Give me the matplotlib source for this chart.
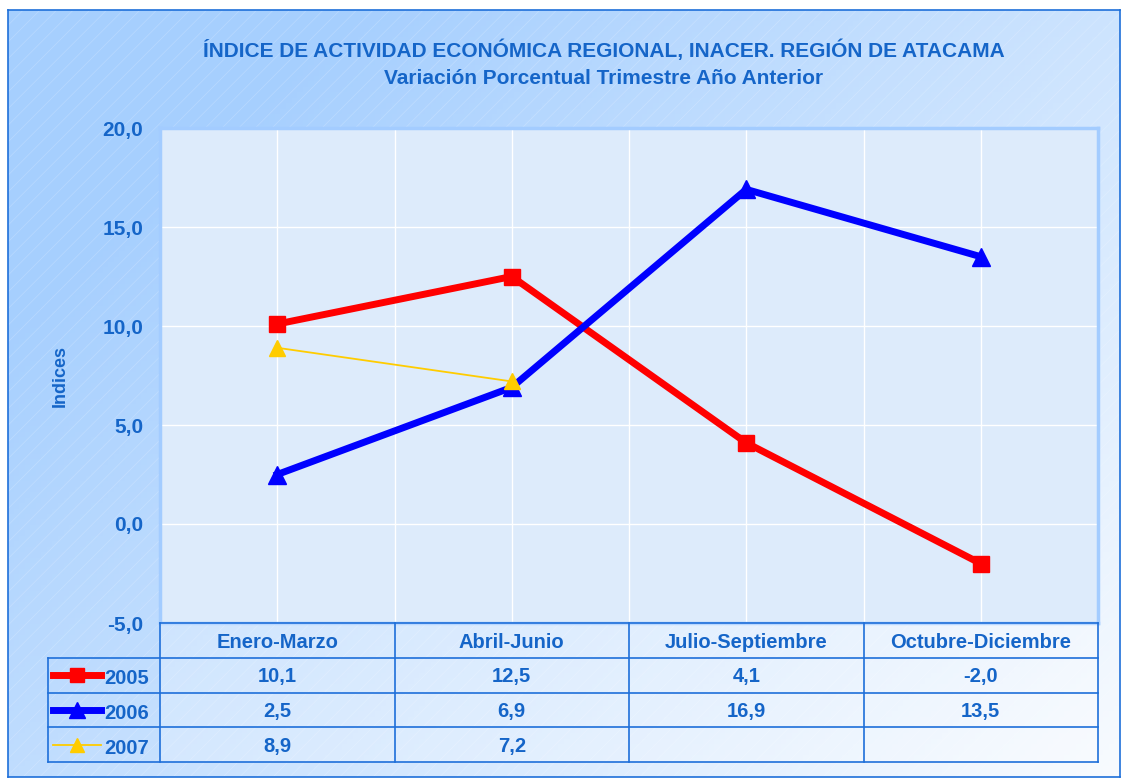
import numpy as np
import matplotlib.pyplot as plt
from matplotlib.lines import Line2D
from matplotlib.patches import Rectangle

# Datos
trimestres = ['Enero-Marzo', 'Abril-Junio', 'Julio-Septiembre', 'Octubre-Diciembre']
serie_2005 = [10.1, 12.5, 4.1, -2.0]
serie_2006 = [2.5, 6.9, 16.9, 13.5]
serie_2007 = [8.9, 7.2]
anios = ['2005', '2006', '2007']

W, H = 1132, 780
AZUL_TXT = '#1565C8'
plt.rcParams['font.family'] = ['Liberation Sans', 'DejaVu Sans']
plt.rcParams['hatch.linewidth'] = 0.5

fig = plt.figure(figsize=(W / 100, H / 100), dpi=100)
fig.patch.set_facecolor('white')


def px(x0, y0, x1, y1):
    """Rectángulo en píxeles -> coordenadas de figura"""
    return [x0 / W, 1 - y1 / H, (x1 - x0) / W, (y1 - y0) / H]


# Fondo degradado
bg = fig.add_axes(px(8, 10, 1120, 777), zorder=-5)
xx, yy = np.meshgrid(np.linspace(0, 1, 200), np.linspace(0, 1, 140))
t = np.clip((0.65 * xx + 0.5 * yy - 0.2) / 0.95, 0, 1)
c0 = np.array([0xA6, 0xCF, 0xFE]) / 255
c1 = np.array([0xF8, 0xFB, 0xFF]) / 255
img = c0[None, None, :] * (1 - t[..., None]) + c1[None, None, :] * t[..., None]
bg.imshow(img, aspect='auto', extent=[0, 1, 0, 1], origin='upper')
bg.add_patch(Rectangle((0, 0), 1, 1, facecolor='none', hatch='//',
                       edgecolor=(1, 1, 1, 0.22), linewidth=0))
bg.set_xlim(0, 1)
bg.set_ylim(0, 1)
bg.set_xticks([])
bg.set_yticks([])
for s in bg.spines.values():
    s.set_color('#1E6FD9')
    s.set_linewidth(1.2)

# Títulos
fig.text(604 / W, 1 - 50 / H, 'ÍNDICE DE ACTIVIDAD ECONÓMICA REGIONAL, INACER. REGIÓN DE ATACAMA',
         ha='center', va='center', fontsize=15, fontweight='bold', color=AZUL_TXT)
fig.text(604 / W, 1 - 78 / H, 'Variación Porcentual Trimestre Año Anterior',
         ha='center', va='center', fontsize=15, fontweight='bold', color=AZUL_TXT)

# Gráfico
ax = fig.add_axes(px(160, 128, 1098, 623))
ax.set_facecolor('#DDEBFB')
ax.set_xlim(-0.5, 3.5)
ax.set_ylim(-5, 20)
ax.set_yticks(np.arange(-5, 21, 5))
ax.set_yticklabels([f'{v:.1f}'.replace('.', ',') for v in np.arange(-5, 21, 5)],
                   fontsize=15, fontweight='bold', color=AZUL_TXT)
ax.tick_params(axis='y', length=0, pad=12)
ax.set_xticks(np.arange(0, 3.01, 0.5))
ax.tick_params(axis='x', length=0, labelbottom=False)
ax.grid(True, color='white', linewidth=1)
ax.set_axisbelow(True)
for s in ax.spines.values():
    s.set_color('#A3CCFF')
    s.set_linewidth(2.5)
ax.set_ylabel('Indices', fontsize=13, fontweight='bold', color=AZUL_TXT, labelpad=24)

x = np.arange(len(trimestres))
estilos = [
    dict(color='#FF0000', lw=5, marker='s', ms=12),
    dict(color='#0000FF', lw=5, marker='^', ms=13),
    dict(color='#FFCC00', lw=1.3, marker='^', ms=12),
]
series = [serie_2005, serie_2006, serie_2007]
for vals, st in zip(series, estilos):
    ax.plot(x[:len(vals)], vals, color=st['color'], lw=st['lw'], marker=st['marker'],
            ms=st['ms'], mfc=st['color'], mec=st['color'], zorder=3, clip_on=False)

# Tabla de datos
tb = fig.add_axes(px(160, 623, 1098, 762))
tb.set_xlim(-0.5, 3.5)
tb.set_ylim(4, 0)
tb.axis('off')
borde = '#1E6FD9'
x_izq = -0.5 - 112 / 234.5
tb.add_patch(Rectangle((-0.5, 0), 4, 4, facecolor=(1, 1, 1, 0.25), edgecolor='none'))
for r in range(1, 5):
    tb.add_line(Line2D([x_izq, 3.5], [r, r], color=borde, lw=1.2, clip_on=False))
tb.add_line(Line2D([-0.5, 3.5], [0, 0], color=borde, lw=1.2, clip_on=False))
for c in np.arange(-0.5, 3.6, 1):
    tb.add_line(Line2D([c, c], [0, 4], color=borde, lw=1.2, clip_on=False))
tb.add_line(Line2D([x_izq, x_izq], [1, 4], color=borde, lw=1.2, clip_on=False))

for i, nombre in enumerate(trimestres):
    tb.text(i, 0.55, nombre, ha='center', va='center', fontsize=14.5,
            fontweight='bold', color=AZUL_TXT)
for r, (vals, st, anio) in enumerate(zip(series, estilos, anios)):
    fila = r + 1.55
    for i, v in enumerate(vals):
        tb.text(i, fila, f'{v:.1f}'.replace('.', ','), ha='center', va='center',
                fontsize=14.5, fontweight='bold', color=AZUL_TXT)
    k0, k1 = x_izq + 0.02, x_izq + 0.228
    tb.plot([k0, k1], [fila - 0.05, fila - 0.05], color=st['color'], lw=st['lw'],
            clip_on=False)
    tb.plot([(k0 + k1) / 2], [fila - 0.05], marker=st['marker'], ms=st['ms'] * 0.85,
            color=st['color'], clip_on=False)
    tb.text(x_izq + 0.24, fila + 0.05, anio, ha='left', va='center', fontsize=14.5,
            fontweight='bold', color=AZUL_TXT)

plt.savefig('out.png', dpi=100)
